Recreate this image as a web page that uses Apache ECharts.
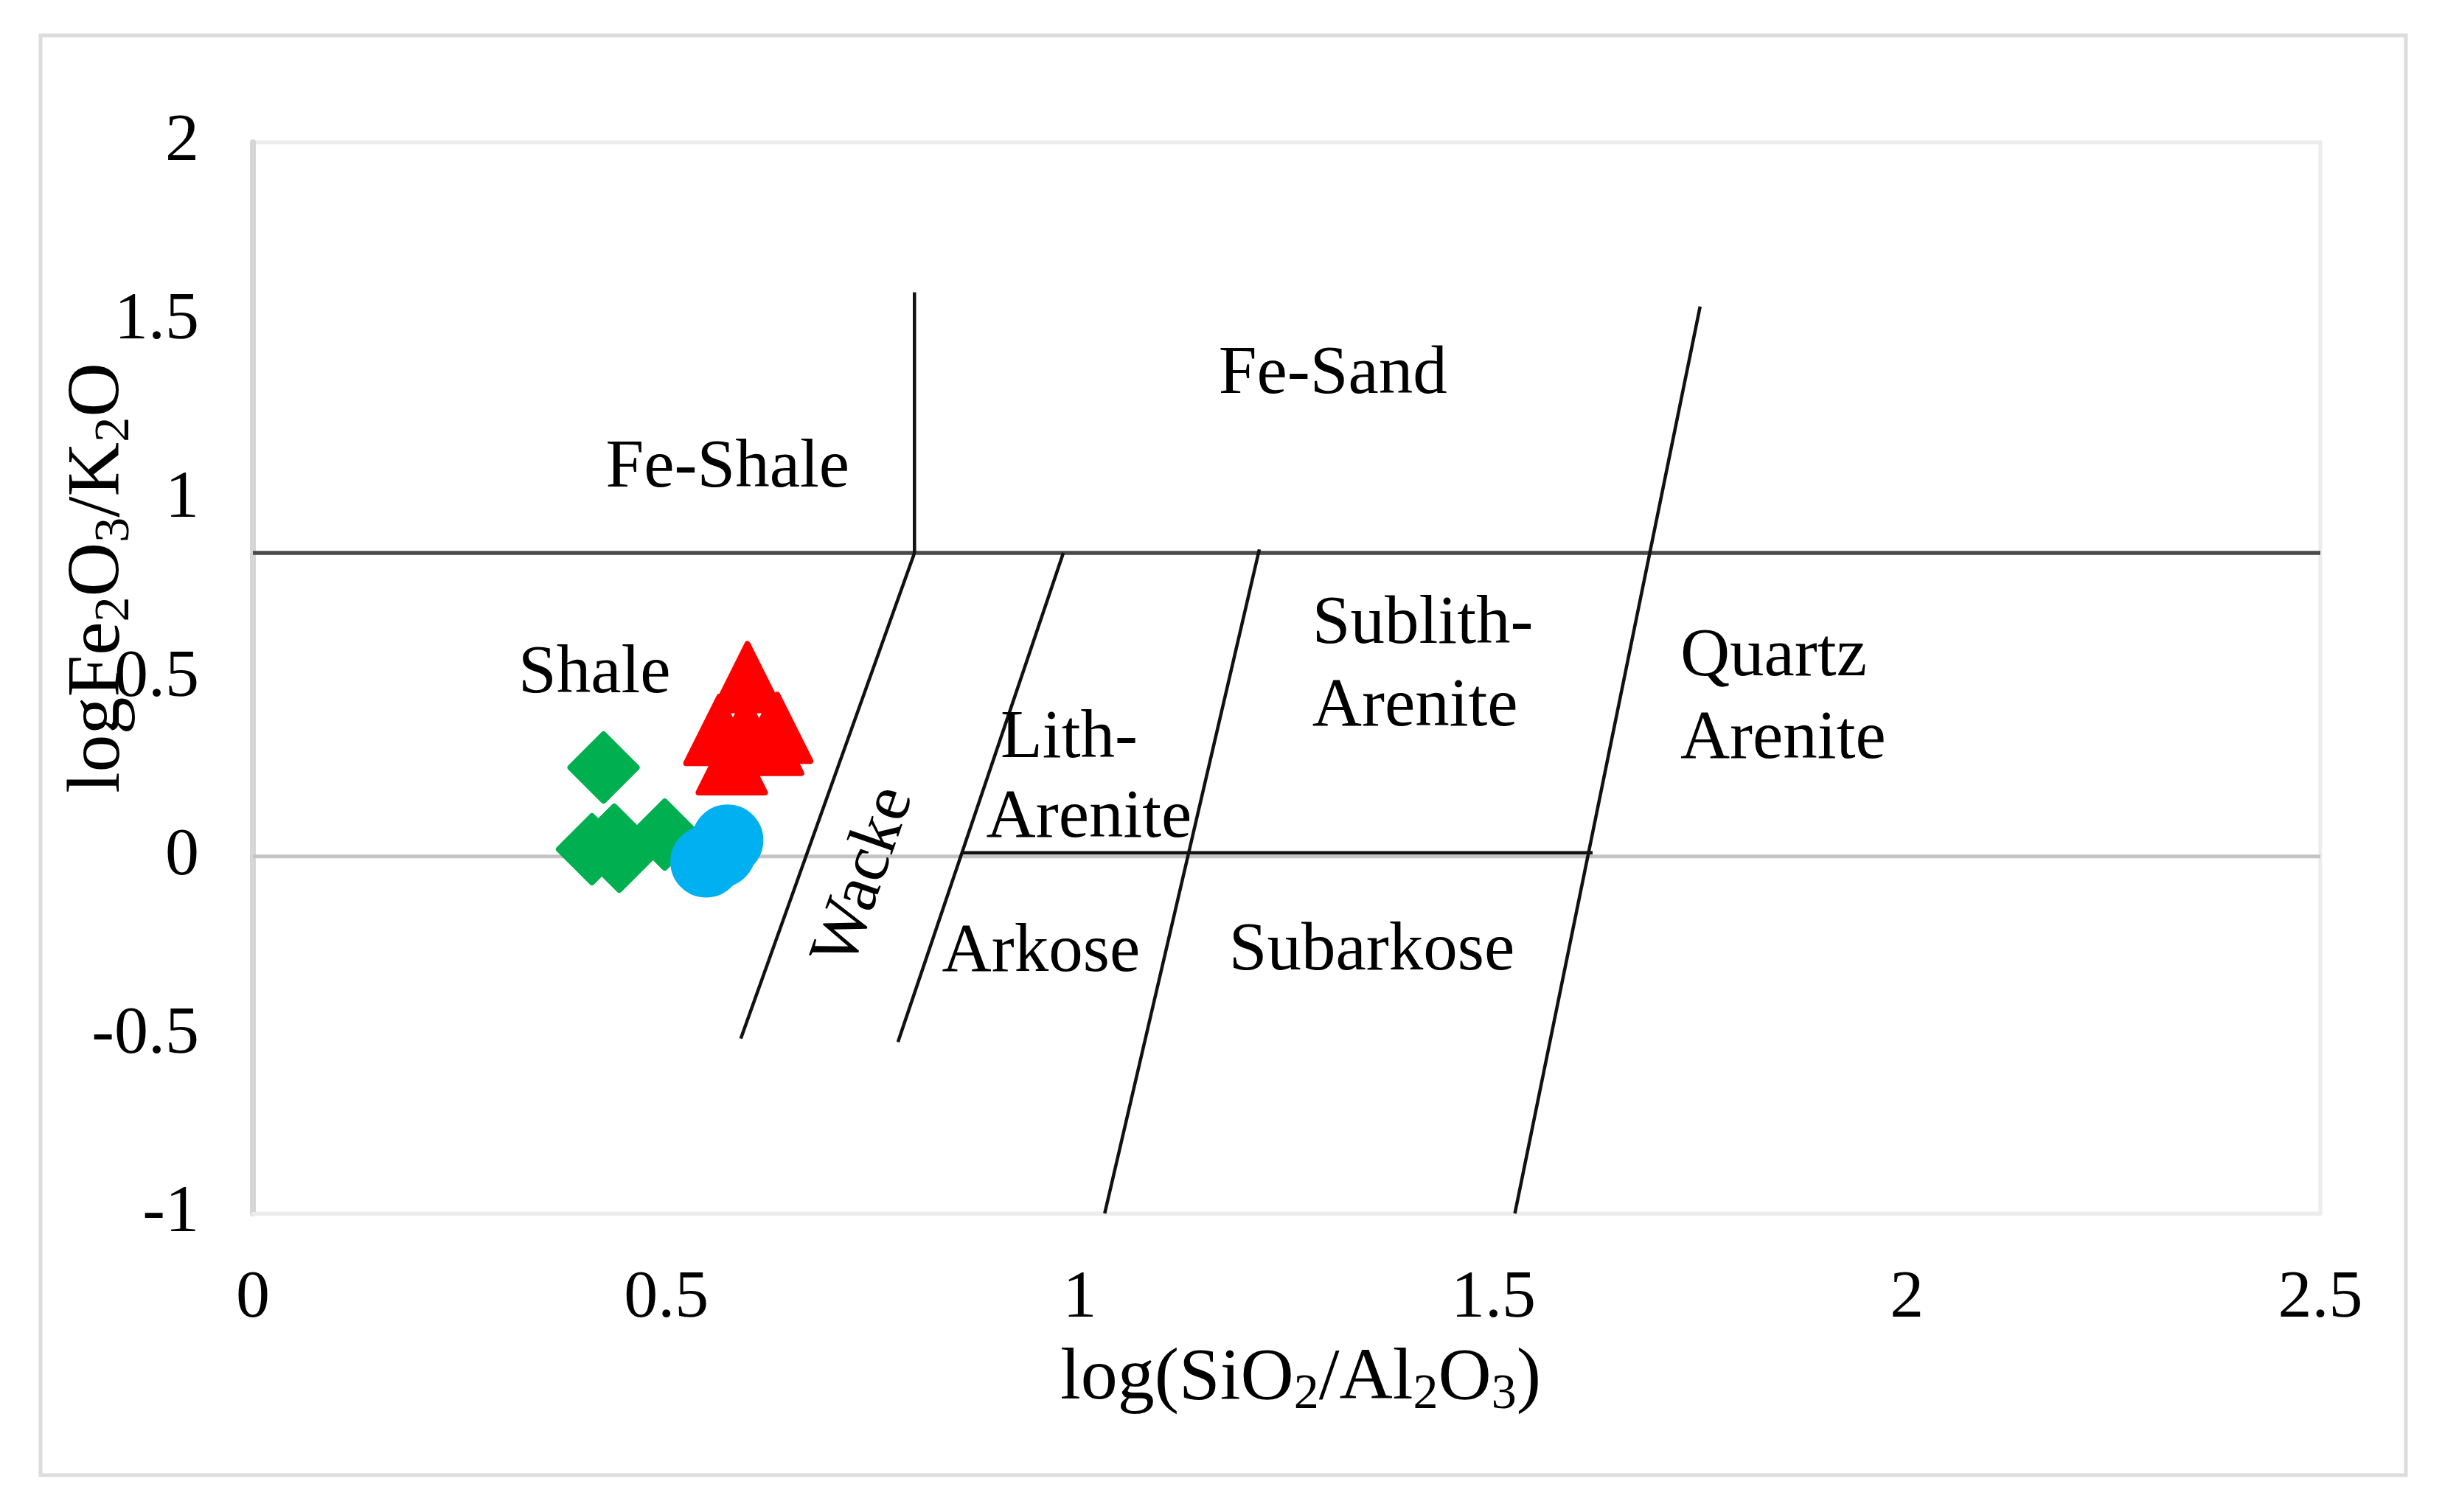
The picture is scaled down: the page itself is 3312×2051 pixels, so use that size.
<!DOCTYPE html>
<html>
<head>
<meta charset="utf-8">
<script src="https://cdn.jsdelivr.net/npm/echarts@6/dist/echarts.min.js"></script>
<style>html,body{margin:0;padding:0;background:#fff}#c{width:3312px;height:2051px}</style>
</head>
<body>
<div id="c"></div>
<script>
// ---- data ----
const xTicks = [0, 0.5, 1, 1.5, 2, 2.5];
const yTicks = [-1, -0.5, 0, 0.5, 1, 1.5, 2];
const greenPoints = [[0.424, 0.249], [0.410, 0.020], [0.437, 0.047], [0.443, -0.001], [0.498, 0.061]];
const redPoints = [[0.598, 0.502], [0.634, 0.360], [0.564, 0.354], [0.623, 0.326], [0.579, 0.272], [0.596, 0.350]];
const bluePoints = [[0.574, 0.045], [0.548, -0.015], [0.565, 0.013]];

// boundary lines of the classification diagram
const zeroLine = [[0, 0], [2.5, 0]];
const upperLine = [[0, 0.85], [2.5, 0.85]];
const feVerticalLine = [[0.8, 0.85], [0.8, 1.58]];
const arkoseTopLine = [[0.857, 0.01], [1.62, 0.01]];
const shaleWackeLine = [[0.8, 0.85], [0.59, -0.51]];
const wackeArenLine = [[0.98, 0.85], [0.78, -0.52]];
const lithSublithLine = [[1.217, 0.86], [1.03, -1.0]];
const sublithQuartzLine = [[1.75, 1.54], [1.526, -1.0]];

// region labels
const regionNames = ['Fe-Sand', 'Fe-Shale', 'Shale', 'Sublith-\nArenite', 'Quartz\nArenite', 'Lith-', 'Arenite', 'Wacke', 'Arkose', 'Subarkose'];
const regionPos = [[1.306, 1.349], [0.574, 1.087], [0.413, 0.511], [1.281, 0.533], [1.726, 0.441], [0.987, 0.328], [1.011, 0.105], [0.740, -0.057], [0.953, -0.271], [1.353, -0.266]];
const regionAlign = ['center', 'center', 'center', 'left', 'left', 'center', 'center', 'center', 'center', 'center'];
const regionRotate = [0, 0, 0, 0, 0, 0, 0, 70.7, 0, 0];

const FONT = 'Liberation Serif';
const chart = echarts.init(document.getElementById('c'));

function lineSeries(data, color, width, z) {
  return {
    type: 'line', data: data, symbol: 'none', showSymbol: false, silent: true, z: z || 2,
    lineStyle: { color: color, width: width }, animation: false
  };
}

const subStyle = { fontFamily: FONT, fontSize: 68, lineHeight: 58, verticalAlign: 'bottom', color: '#000' };

const baseGraphics = [
  { id: 'frame', type: 'rect', shape: { x: 55, y: 48, width: 3208, height: 1953 }, style: { fill: 'none', stroke: '#dcdcdc', lineWidth: 5 }, silent: true, z: -1 },
  { id: 'xname', type: 'text', x: 1764, y: 1871, silent: true,
    style: { text: 'log(SiO{s|2}/Al{s|2}O{s|3})', fontFamily: FONT, fontSize: 100, lineHeight: 110, fill: '#000',
      align: 'center', verticalAlign: 'middle', textAlign: 'center', textVerticalAlign: 'middle', rich: { s: subStyle } } },
  { id: 'yname', type: 'text', x: 134, y: 784, rotation: Math.PI / 2, silent: true,
    style: { text: 'logFe{s|2}O{s|3}/K{s|2}O', fontFamily: FONT, fontSize: 102, lineHeight: 112, fill: '#000',
      align: 'center', verticalAlign: 'middle', textAlign: 'center', textVerticalAlign: 'middle', rich: { s: subStyle } } }
];

chart.setOption({
  animation: false,
  backgroundColor: '#fff',
  grid: { left: 343, top: 193, width: 2804, height: 1453, show: true, borderColor: '#ececec', borderWidth: 5, backgroundColor: 'transparent' },
  xAxis: {
    type: 'value', min: 0, max: 2.5, interval: 0.5,
    axisLine: { show: true, onZero: false, lineStyle: { color: '#ececec', width: 5 } },
    axisTick: { show: false }, splitLine: { show: false },
    axisLabel: { fontFamily: FONT, fontSize: 92, color: '#000', margin: 70,
      formatter: function (v) { return xTicks.indexOf(v) >= 0 ? String(v) : ''; } }
  },
  yAxis: {
    type: 'value', min: -1, max: 2, interval: 0.5,
    axisLine: { show: true, lineStyle: { color: '#d6d6d6', width: 8 } },
    axisTick: { show: false }, splitLine: { show: false },
    axisLabel: { fontFamily: FONT, fontSize: 92, color: '#000', margin: 73,
      formatter: function (v) { return yTicks.indexOf(v) >= 0 ? String(v) : ''; } }
  },
  graphic: baseGraphics,
  series: [
    lineSeries(zeroLine, '#c4c4c4', 5, 1),
    lineSeries(upperLine, '#4a4a4a', 5.5, 2),
    lineSeries(feVerticalLine, '#111', 4.5, 2),
    lineSeries(arkoseTopLine, '#111', 4.5, 2),
    lineSeries(shaleWackeLine, '#111', 4.5, 2),
    lineSeries(wackeArenLine, '#111', 4.5, 2),
    lineSeries(lithSublithLine, '#111', 4.5, 2),
    lineSeries(sublithQuartzLine, '#111', 4.5, 2),
    {
      type: 'scatter', data: greenPoints, symbol: 'diamond', symbolSize: 90, z: 5,
      itemStyle: { color: '#00B050', borderColor: '#00B050', borderWidth: 8, borderJoin: 'round', opacity: 1 }
    },
    {
      type: 'scatter', data: redPoints, symbol: 'triangle', symbolSize: 90, z: 5,
      itemStyle: { color: '#FF0000', borderColor: '#FF0000', borderWidth: 8, borderJoin: 'round', opacity: 1 }
    },
    {
      type: 'scatter', data: bluePoints, symbol: 'circle', symbolSize: 92, z: 6,
      itemStyle: { color: '#00B0F0', borderColor: '#00B0F0', borderWidth: 5, opacity: 1 }
    }
  ]
});

// region labels placed through the chart's own scales
const labelGraphics = regionNames.map(function (n, i) {
  const p = chart.convertToPixel({ gridIndex: 0 }, regionPos[i]);
  return {
    id: 'region' + i, type: 'text', x: p[0], y: p[1], rotation: regionRotate[i] * Math.PI / 180, silent: true, z: 100,
    style: { text: n, fontFamily: FONT, fontSize: 93, lineHeight: 112, fill: '#000',
      align: regionAlign[i], verticalAlign: 'middle', textAlign: regionAlign[i], textVerticalAlign: 'middle' }
  };
});
chart.setOption({ graphic: baseGraphics.concat(labelGraphics) });
</script>
</body>
</html>
